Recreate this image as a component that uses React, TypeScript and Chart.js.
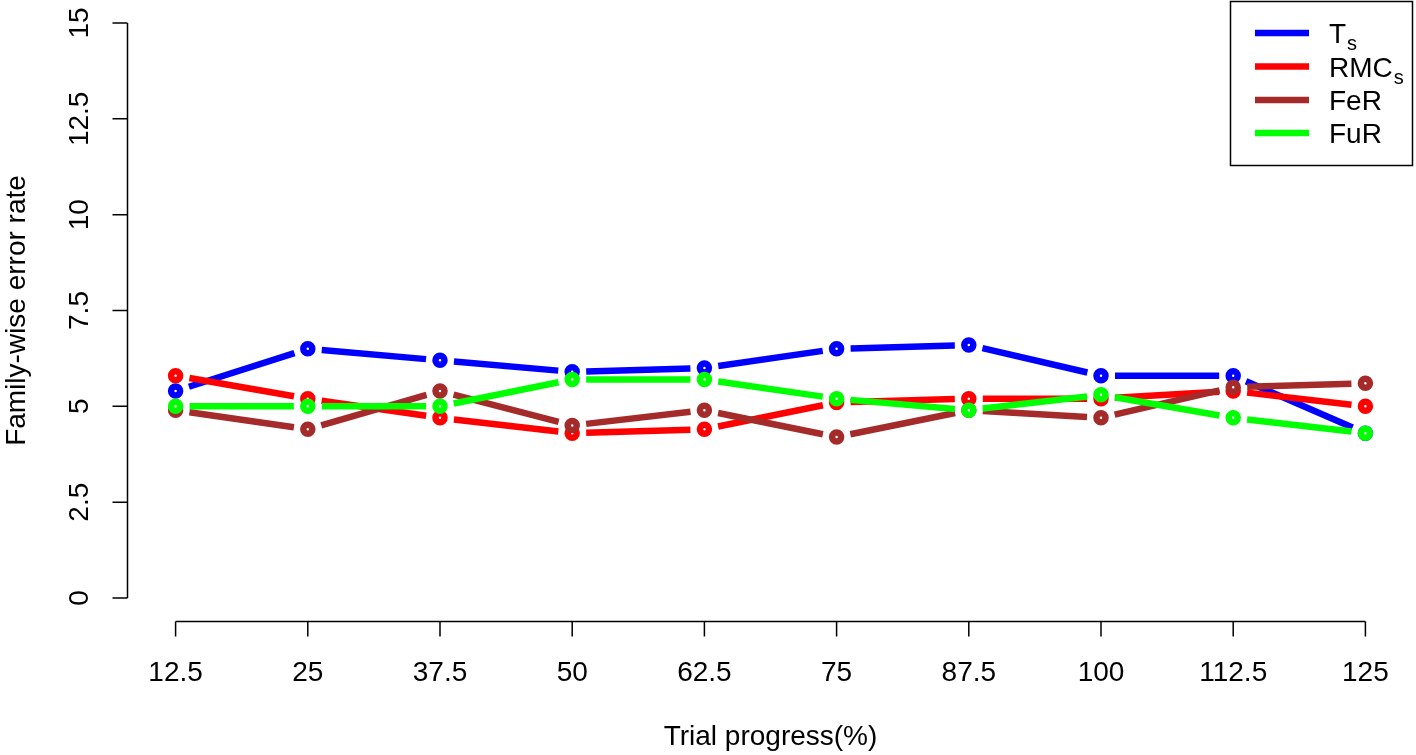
import React, { useEffect, useRef } from "react";
import { Chart, registerables } from "chart.js";

Chart.register(...registerables);

const categories = [12.5, 25, 37.5, 50, 62.5, 75, 87.5, 100, 112.5, 125];
const categoryLabels = ["12.5", "25", "37.5", "50", "62.5", "75", "87.5", "100", "112.5", "125"];
const tsValues = [5.4, 6.5, 6.2, 5.9, 6.0, 6.5, 6.6, 5.8, 5.8, 4.3];
const rmcValues = [5.8, 5.2, 4.7, 4.3, 4.4, 5.1, 5.2, 5.2, 5.4, 5.0];
const ferValues = [4.9, 4.4, 5.4, 4.5, 4.9, 4.2, 4.9, 4.7, 5.5, 5.6];
const furValues = [5.0, 5.0, 5.0, 5.7, 5.7, 5.2, 4.9, 5.3, 4.7, 4.3];
const yTicks = [0, 2.5, 5, 7.5, 10, 12.5, 15];
const yTickLabels = ["0", "2.5", "5", "7.5", "10", "12.5", "15"];

const seriesNames = ["T", "RMC", "FeR", "FuR"];
const seriesSubs = ["s", "s", "", ""];
const seriesColors = ["#0000FF", "#FF0000", "#A52A2A", "#00FF00"];
const seriesValues = [tsValues, rmcValues, ferValues, furValues];

const FONT = '"Liberation Sans", Arial, sans-serif';

const gapLinePlugin = {
  id: "gapLines",
  beforeDatasetDraw(chart: any, args: any) {
    const meta = args.meta;
    const pts = meta.data;
    const ctx = chart.ctx;
    const color = seriesColors[args.index];
    const gap = 14;
    ctx.save();
    ctx.strokeStyle = color;
    ctx.lineWidth = 6.5;
    ctx.lineCap = "butt";
    for (let i = 0; i < pts.length - 1; i++) {
      const a = pts[i];
      const b = pts[i + 1];
      const dx = b.x - a.x;
      const dy = b.y - a.y;
      const len = Math.sqrt(dx * dx + dy * dy);
      if (len <= gap * 2) continue;
      const ux = dx / len;
      const uy = dy / len;
      ctx.beginPath();
      ctx.moveTo(a.x + ux * gap, a.y + uy * gap);
      ctx.lineTo(b.x - ux * gap, b.y - uy * gap);
      ctx.stroke();
    }
    ctx.restore();
  },
};

const axesPlugin = {
  id: "rAxes",
  afterDraw(chart: any) {
    const ctx = chart.ctx;
    const xs = chart.scales.x;
    const ys = chart.scales.y;
    ctx.save();
    ctx.strokeStyle = "#000";
    ctx.fillStyle = "#000";
    ctx.lineWidth = 1.5;

    // x axis
    const axY = 621.5;
    const x0 = xs.getPixelForValue(categories[0]);
    const x1 = xs.getPixelForValue(categories[categories.length - 1]);
    ctx.beginPath();
    ctx.moveTo(x0, axY);
    ctx.lineTo(x1, axY);
    categories.forEach((c) => {
      const px = xs.getPixelForValue(c);
      ctx.moveTo(px, axY);
      ctx.lineTo(px, axY + 15);
    });
    ctx.stroke();
    ctx.font = `28px ${FONT}`;
    ctx.textAlign = "center";
    ctx.textBaseline = "alphabetic";
    categories.forEach((c, i) => {
      ctx.fillText(categoryLabels[i], xs.getPixelForValue(c), 681);
    });
    ctx.fillText("Trial progress(%)", (chart.chartArea.left + chart.chartArea.right) / 2, 745);

    // y axis
    const axX = 127.5;
    const y0 = ys.getPixelForValue(yTicks[0]);
    const y1 = ys.getPixelForValue(yTicks[yTicks.length - 1]);
    ctx.beginPath();
    ctx.moveTo(axX, y0);
    ctx.lineTo(axX, y1);
    yTicks.forEach((t) => {
      const py = ys.getPixelForValue(t);
      ctx.moveTo(axX, py);
      ctx.lineTo(axX - 15, py);
    });
    ctx.stroke();
    yTicks.forEach((t, i) => {
      const py = ys.getPixelForValue(t);
      ctx.save();
      ctx.translate(88, py);
      ctx.rotate(-Math.PI / 2);
      ctx.textAlign = "center";
      ctx.fillText(yTickLabels[i], 0, 0);
      ctx.restore();
    });
    ctx.save();
    ctx.translate(25, (chart.chartArea.top + chart.chartArea.bottom) / 2);
    ctx.rotate(-Math.PI / 2);
    ctx.textAlign = "center";
    ctx.fillText("Family-wise error rate", 0, 0);
    ctx.restore();

    // legend
    ctx.lineWidth = 1.5;
    ctx.strokeRect(1230.5, 1.5, 182, 164);
    const rowY = [33, 66.5, 100, 133];
    seriesNames.forEach((name, i) => {
      ctx.strokeStyle = seriesColors[i];
      ctx.lineWidth = 6.5;
      ctx.beginPath();
      ctx.moveTo(1255, rowY[i]);
      ctx.lineTo(1309, rowY[i]);
      ctx.stroke();
      ctx.fillStyle = "#000";
      ctx.textAlign = "left";
      ctx.font = `28px ${FONT}`;
      ctx.fillText(name, 1329, rowY[i] + 10);
      if (seriesSubs[i]) {
        const w = ctx.measureText(name).width;
        ctx.font = `20px ${FONT}`;
        ctx.fillText(seriesSubs[i], 1329 + w + 1, rowY[i] + 17);
      }
    });
    ctx.restore();
  },
};

export default function App() {
  const ref = useRef<HTMLCanvasElement>(null);
  useEffect(() => {
    if (!ref.current) return;
    const chart = new Chart(ref.current, {
      type: "line",
      data: {
        datasets: seriesValues.map((vals, i) => ({
          label: seriesNames[i] + seriesSubs[i],
          data: categories.map((c, j) => ({ x: c, y: vals[j] })),
          showLine: false,
          borderColor: seriesColors[i],
          backgroundColor: "#FFFFFF",
          pointRadius: 4.5,
          pointBorderWidth: 6.5,
          pointBackgroundColor: "#FFFFFF",
          pointBorderColor: seriesColors[i],
          pointHoverRadius: 4.5,
          order: 3 - i,
          clip: false as any,
        })),
      },
      options: {
        animation: false,
        responsive: false,
        events: [],
        layout: { autoPadding: false, padding: { left: 128, right: 3, top: 0, bottom: 134 } },
        plugins: { legend: { display: false }, tooltip: { enabled: false } },
        scales: {
          x: { type: "linear", min: 8, max: 129.5, display: false },
          y: { type: "linear", min: -0.6, max: 15.6, display: false },
        },
      },
      plugins: [gapLinePlugin, axesPlugin],
    });
    return () => chart.destroy();
  }, []);
  return (
    <div style={{ position: "absolute", left: 0, top: 0, width: 1416, height: 755, background: "#fff" }}>
      <canvas ref={ref} width={1416} height={755} style={{ display: "block" }} />
    </div>
  );
}
